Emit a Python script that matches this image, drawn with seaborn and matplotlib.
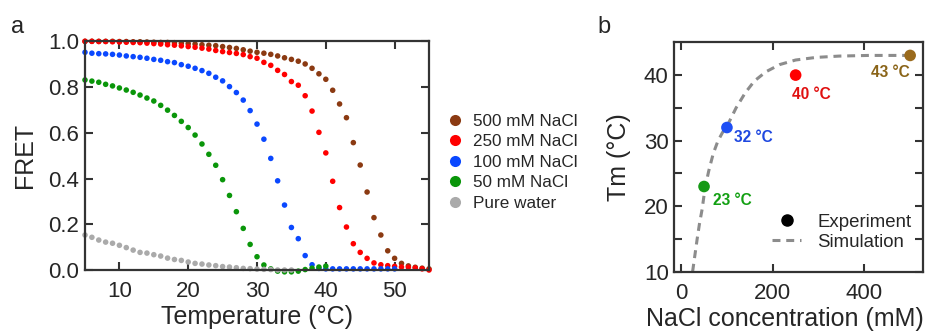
import matplotlib
matplotlib.use('Agg')
import matplotlib.pyplot as plt
from matplotlib.lines import Line2D
import seaborn as sns
import pandas as pd

# ---- panel a: FRET melting curves, one reading per degree starting at 5 C
temps = list(range(5, 56))

fret_500 = [1.0, 1.0, 1.0, 1.0, 1.0, 0.999, 0.999, 0.998, 0.998, 0.997,
            0.996, 0.995, 0.995, 0.994, 0.992, 0.99, 0.988, 0.985, 0.983, 0.981,
            0.977, 0.973, 0.969, 0.963, 0.957, 0.952, 0.948, 0.943, 0.936, 0.928,
            0.921, 0.913, 0.901, 0.882, 0.858, 0.834, 0.786, 0.726, 0.666, 0.557,
            0.459, 0.341, 0.229, 0.153, 0.084, 0.051, 0.029, 0.018, 0.012, 0.008,
            0.005]
fret_250 = [1.0, 1.0, 0.999, 0.999, 0.998, 0.997, 0.996, 0.995, 0.994, 0.992,
            0.99, 0.988, 0.985, 0.983, 0.98, 0.977, 0.974, 0.97, 0.966, 0.96,
            0.955, 0.951, 0.947, 0.942, 0.933, 0.926, 0.908, 0.895, 0.873, 0.855,
            0.824, 0.808, 0.762, 0.695, 0.602, 0.512, 0.388, 0.273, 0.188, 0.115,
            0.077, 0.051, 0.031, 0.023, 0.019, 0.016, 0.013, 0.012, 0.009, 0.005,
            0.0]
fret_100 = [0.952, 0.948, 0.946, 0.945, 0.943, 0.94, 0.936, 0.933, 0.93, 0.926,
            0.921, 0.917, 0.911, 0.907, 0.898, 0.891, 0.882, 0.872, 0.86, 0.843,
            0.827, 0.802, 0.776, 0.743, 0.697, 0.638, 0.572, 0.488, 0.39, 0.284,
            0.186, 0.137, 0.063, 0.023, 0.007, 0.005, 0.005, 0.005, 0.005, 0.005,
            0.005, 0.005, 0.005, 0.005, 0.005, 0.005]
fret_50 = [0.831, 0.826, 0.821, 0.812, 0.805, 0.796, 0.787, 0.777, 0.765, 0.752,
           0.739, 0.72, 0.699, 0.676, 0.65, 0.623, 0.59, 0.551, 0.506, 0.458,
           0.395, 0.326, 0.255, 0.182, 0.112, 0.058, 0.022, 0.005, -0.005, -0.008,
           -0.008, -0.005, 0.002, 0.008, 0.013, 0.017]
fret_water = [0.153, 0.143, 0.131, 0.122, 0.117, 0.108, 0.098, 0.087, 0.077, 0.074,
              0.067, 0.061, 0.052, 0.046, 0.042, 0.035, 0.029, 0.026, 0.022, 0.019,
              0.015, 0.013, 0.01, 0.007, 0.006, 0.004, 0.003, 0.002, 0.0, 0.0,
              0.0]

series_names = ['500 mM NaCl', '250 mM NaCl', '100 mM NaCl', '50 mM NaCl', 'Pure water']
series_vals = [fret_500, fret_250, fret_100, fret_50, fret_water]
series_colors = ['#8b3a12', '#ff0000', '#0a48ff', '#0a960a', '#aaaaaa']

# ---- panel b: melting temperature vs NaCl
nacl_conc = [50, 100, 250, 500]
tm_exp = [23, 32, 40, 43]
tm_labels = ['23 °C', '32 °C', '40 °C', '43 °C']
tm_colors = ['#169a16', '#1f4ff5', '#ff0000', '#9a6a1c']
tm_text_colors = ['#13a013', '#1f48e0', '#e01010', '#8a6418']

sim_conc = [25, 30, 35, 40, 46, 52, 60, 70, 80, 90, 103, 120, 140, 160, 185,
            215, 250, 295, 345, 410, 500]
sim_tm = [10, 12.5, 15, 17.3, 19.6, 22.7, 25.3, 28.0, 29.9, 31.2, 32.6, 35.0,
          37.3, 39.1, 40.5, 41.6, 42.3, 42.7, 42.9, 43.0, 43.0]

rows = []
for name, vals in zip(series_names, series_vals):
    for t, v in zip(temps, vals):
        rows.append((name, t, v))
df = pd.DataFrame(rows, columns=['series', 'T', 'FRET'])

sns.set_style('ticks')
plt.rcParams['font.family'] = ['Liberation Sans', 'DejaVu Sans']

fig = plt.figure(figsize=(9.29, 3.34), dpi=100)
ax1 = fig.add_axes([0.0915, 0.1916, 0.3703, 0.6847])
ax2 = fig.add_axes([0.7258, 0.1865, 0.2677, 0.6868])

spine_col = '#333333'

# panel a
sns.scatterplot(data=df, x='T', y='FRET', hue='series', hue_order=series_names,
                palette=dict(zip(series_names, series_colors)), s=16,
                linewidth=0, clip_on=False, legend=False, ax=ax1)
ax1.set_xlim(5, 55)
ax1.set_ylim(0, 1.0)
ax1.set_xticks([10, 20, 30, 40, 50])
ax1.set_yticks([0, 0.2, 0.4, 0.6, 0.8, 1.0])
ax1.set_yticklabels(['0.0', '0.2', '0.4', '0.6', '0.8', '1.0'])
ax1.set_xlabel('Temperature (°C)', fontsize=18, labelpad=2)
ax1.set_ylabel('FRET', fontsize=18, labelpad=8)

handles = [Line2D([], [], marker='o', ls='', color=c, markersize=8, markeredgewidth=0)
           for c in series_colors]
fig.legend(handles, series_names, loc='upper left', bbox_to_anchor=(0.4728, 0.685),
           frameon=False, fontsize=12.3, handlelength=0.8, handletextpad=0.7,
           borderpad=0, labelspacing=0.32)

# panel b
sns.lineplot(x=sim_conc, y=sim_tm, color='#8c8c8c', lw=2.2,
             linestyle=(0, (2.6, 1.9)), ax=ax2, zorder=2)
sns.scatterplot(x=nacl_conc, y=tm_exp, hue=tm_labels,
                palette=dict(zip(tm_labels, tm_colors)), s=70, linewidth=0,
                clip_on=False, legend=False, ax=ax2, zorder=3)
offsets = [(6.5, -10), (5, -7), (-2.5, -14), (0, -12.5)]
aligns = ['left', 'left', 'left', 'right']
for x, y, lab, col, off, ha in zip(nacl_conc, tm_exp, tm_labels, tm_text_colors, offsets, aligns):
    ax2.annotate(lab, (x, y), xytext=off, textcoords='offset points', ha=ha, va='center',
                 fontsize=11.2, fontweight='bold', color=col)

ax2.set_xlim(-15, 528)
ax2.set_ylim(10, 45)
ax2.set_xticks([0, 200, 400])
ax2.set_yticks([10, 20, 30, 40])
ax2.set_yticks([15, 25, 35], minor=True)
ax2.set_xlabel('NaCl concentration (mM)', fontsize=18)
ax2.xaxis.set_label_coords(0.445, -0.155)
ax2.set_ylabel('Tm (°C)', fontsize=18, labelpad=9)

hb = [Line2D([], [], marker='o', ls='', color='black', markersize=8),
      Line2D([], [], color='#8c8c8c', lw=2.2, linestyle=(0, (2.6, 1.9)))]
ax2.legend(hb, ['Experiment', 'Simulation'], loc='upper left',
           bbox_to_anchor=(0.8213, 0.3875), bbox_transform=fig.transFigure,
           frameon=False, fontsize=13.4, handlelength=1.56, handletextpad=0.86,
           borderpad=0, labelspacing=0.15)

for ax in (ax1, ax2):
    for sp in ax.spines.values():
        sp.set_color(spine_col)
        sp.set_linewidth(1.6)
    ax.tick_params(which='both', direction='in', top=True, right=True, length=6,
                   width=1.5, color=spine_col, labelsize=16, pad=4)
    ax.tick_params(axis='x', pad=8)

fig.text(0.012, 0.90, 'a', fontsize=17)
fig.text(0.643, 0.90, 'b', fontsize=17)

fig.savefig('out.png', dpi=100)
